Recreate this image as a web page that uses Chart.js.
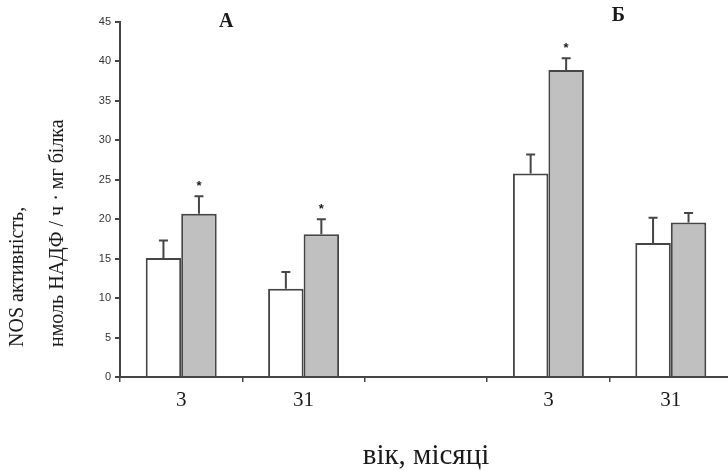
<!DOCTYPE html>
<html>
<head>
<meta charset="utf-8">
<script src="https://cdn.jsdelivr.net/npm/chart.js@4.4.1/dist/chart.umd.min.js"></script>
<style>
  html, body { margin: 0; padding: 0; overflow: hidden; background: #fff; }
  #wrap { width: 732px; height: 471px; }
</style>
</head>
<body>
<div id="wrap"><canvas id="chart" width="732" height="471"></canvas></div>
<script>
// вік тварин (місяці), порожня категорія — проміжок між панелями А та Б
const categories = ['3', '31', '', '3', '31'];
const controlValues = [15.1, 11.2, null, 25.8, 17.0];
const controlErrors = [2.2, 2.1, null, 2.4, 3.2];
const treatedValues = [20.7, 18.1, null, 38.9, 19.6];
const treatedErrors = [2.2, 1.9, null, 1.5, 1.2];
const significant = [true, true, false, true, false];
const yTicks = [0, 5, 10, 15, 20, 25, 30, 35, 40, 45];

const axisColor = '#454545';
const textColor = '#1a1a1a';

// вуса похибки та зірочки над сірими стовпчиками
const errorBarsPlugin = {
  id: 'errorBars',
  afterDatasetsDraw(chart) {
    const ctx = chart.ctx;
    const yScale = chart.scales.y;
    const errs = [controlErrors, treatedErrors];
    ctx.save();
    ctx.strokeStyle = axisColor;
    ctx.lineWidth = 2;
    chart.data.datasets.forEach((ds, i) => {
      const meta = chart.getDatasetMeta(i);
      meta.data.forEach((bar, j) => {
        const v = ds.data[j];
        if (v == null) return;
        const top = yScale.getPixelForValue(v + errs[i][j]);
        ctx.beginPath();
        ctx.moveTo(bar.x, bar.y);
        ctx.lineTo(bar.x, top);
        ctx.moveTo(bar.x - 4.5, top);
        ctx.lineTo(bar.x + 4.5, top);
        ctx.stroke();
        if (i === 1 && significant[j]) {
          ctx.fillStyle = textColor;
          ctx.font = 'bold 13px Arial';
          ctx.textAlign = 'center';
          ctx.textBaseline = 'middle';
          ctx.fillText('*', bar.x, top - 10);
        }
      });
    });
    ctx.restore();
  }
};

// підписи панелей та назва осі Y у два рядки
const labelsPlugin = {
  id: 'labels',
  afterDraw(chart) {
    const ctx = chart.ctx;
    const x = chart.scales.x, y = chart.scales.y;
    ctx.save();
    ctx.fillStyle = textColor;
    ctx.font = 'bold 20px "Liberation Serif"';
    ctx.textAlign = 'center';
    ctx.textBaseline = 'middle';
    ctx.fillText('А', x.getPixelForValue(0) + 45, y.top);
    ctx.fillText('Б', x.getPixelForValue(3) + 70, y.top - 6);

    ctx.font = '20px "Liberation Serif"';
    ctx.textAlign = 'left';
    ctx.textBaseline = 'alphabetic';
    ctx.translate(0, 347);
    ctx.rotate(-Math.PI / 2);
    ctx.fillText('NOS активність,', 0, 23);
    ctx.fillText('нмоль НАДФ / ч · мг білка', 0, 63);
    ctx.restore();
  }
};

new Chart(document.getElementById('chart'), {
  type: 'bar',
  data: {
    labels: categories,
    datasets: [{
      label: 'контроль',
      data: controlValues,
      backgroundColor: '#ffffff',
      borderColor: axisColor,
      borderWidth: 2
    }, {
      label: 'дослід',
      data: treatedValues,
      backgroundColor: '#c0c0c0',
      borderColor: axisColor,
      borderWidth: 2
    }]
  },
  options: {
    responsive: false,
    animation: false,
    categoryPercentage: 0.58,
    barPercentage: 1.0,
    layout: { padding: { top: 22, left: 0, right: 0, bottom: 0 } },
    plugins: {
      legend: { display: false },
      tooltip: { enabled: false }
    },
    scales: {
      y: {
        min: 0,
        max: 45,
        afterBuildTicks: s => { s.ticks = yTicks.map(v => ({ value: v })); },
        afterFit: s => { s.width = 120; },
        grid: { drawOnChartArea: false, tickLength: 5, color: axisColor, lineWidth: 2 },
        border: { color: axisColor, width: 2 },
        ticks: { color: '#333', padding: 4, font: { family: 'Arial', size: 11 } }
      },
      x: {
        afterFit: s => { s.height = 94; },
        grid: { offset: true, drawOnChartArea: false, tickLength: 5, color: axisColor, lineWidth: 1.5 },
        border: { color: axisColor, width: 2 },
        ticks: { color: textColor, padding: 6, font: { family: '"Liberation Serif"', size: 21 } },
        title: {
          display: true,
          text: 'вік, місяці',
          color: textColor,
          font: { family: '"Liberation Serif"', size: 29, lineHeight: 1 },
          padding: { top: 0, bottom: 0 }
        }
      }
    }
  },
  plugins: [errorBarsPlugin, labelsPlugin]
});
</script>
</body>
</html>
